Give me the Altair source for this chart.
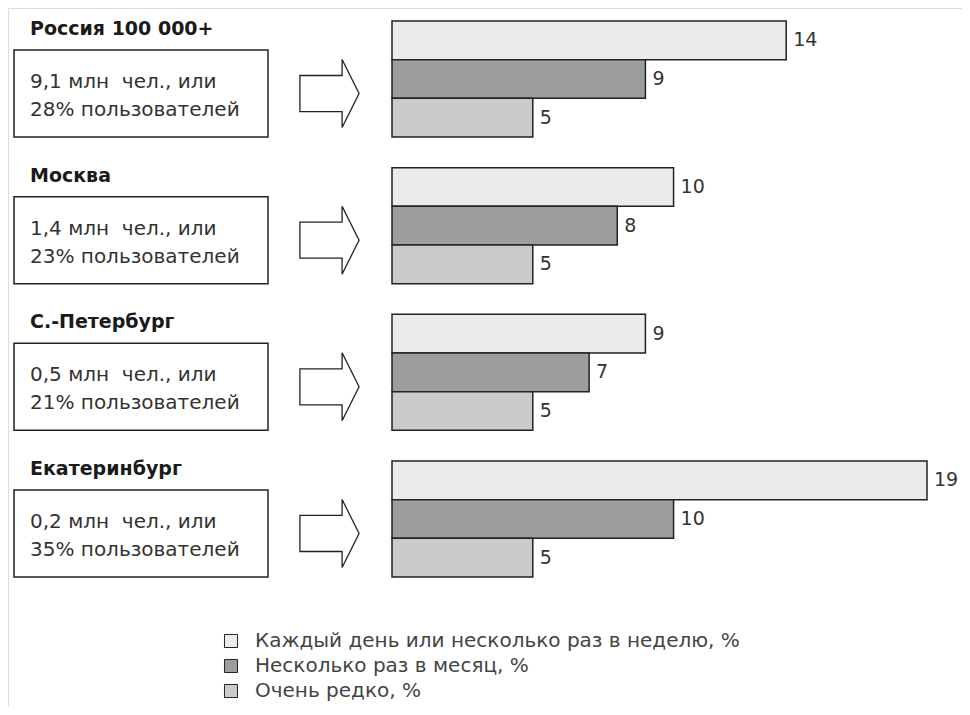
import altair as alt
import pandas as pd

groups = ["Россия 100 000+", "Москва", "С.-Петербург", "Екатеринбург"]
notes = [
    "9,1 млн \u00a0чел., или\n28% пользователей",
    "1,4 млн \u00a0чел., или\n23% пользователей",
    "0,5 млн \u00a0чел., или\n21% пользователей",
    "0,2 млн \u00a0чел., или\n35% пользователей",
]
categories = [
    "Каждый день или несколько раз в неделю, %",
    "Несколько раз в месяц, %",
    "Очень редко, %",
]
daily = [14, 10, 9, 19]
monthly = [9, 8, 7, 10]
rarely = [5, 5, 5, 5]
colors = ["#ebebeb", "#9c9d9f", "#c9cacc"]

FONT = "DejaVu Sans"

rows = []
for i, g in enumerate(groups):
    for c, v in zip(categories, [daily[i], monthly[i], rarely[i]]):
        rows.append({"group": g, "cat": c, "value": v})
bars_df = pd.DataFrame(rows)
info_df = pd.DataFrame({"group": groups, "note": notes})

yscale = alt.Scale(domain=groups, range=[13, 569], paddingInner=0.209, paddingOuter=0)
Y = alt.Y("group:N", scale=yscale, axis=None, sort=groups)
X = alt.X("value:Q", scale=alt.Scale(domain=[0, 19], range=[384, 919]), axis=None)
YO = alt.YOffset("cat:N", scale=alt.Scale(domain=categories, paddingInner=0, paddingOuter=0), sort=categories)

bars = alt.Chart(bars_df).mark_bar(stroke="#222222", strokeWidth=1.5, opacity=1).encode(
    x=X,
    y=Y,
    yOffset=YO,
    color=alt.Color(
        "cat:N",
        scale=alt.Scale(domain=categories, range=colors),
        sort=categories,
        legend=alt.Legend(
            title=None,
            orient="none",
            legendX=213,
            legendY=623,
            symbolType="square",
            symbolSize=170,
            symbolStrokeColor="#222222",
            symbolStrokeWidth=1,
            symbolOpacity=1,
            labelFont=FONT,
            labelFontSize=20,
            labelColor="#444444",
            labelOffset=14,
            labelLimit=700,
            rowPadding=5,
            padding=0,
        ),
    ),
)

labels = alt.Chart(bars_df).mark_text(
    align="left", baseline="middle", dx=7, fontSize=19, font=FONT, color="#333333"
).encode(x=X, y=Y, yOffset=YO, text="value:Q")

titles = alt.Chart(info_df).mark_text(
    align="left", baseline="middle", dy=-50, fontSize=19, fontWeight="bold", font=FONT, color="#1a1a1a"
).encode(x=alt.value(22), y=Y, text="group:N")

boxes = alt.Chart(info_df).mark_rect(
    fill="white", stroke="#222222", strokeWidth=1.5, height=87, yOffset=14.5
).encode(x=alt.value(6), x2=alt.value(260), y=Y)

note_text = alt.Chart(info_df).mark_text(
    align="left", baseline="middle", dy=3, fontSize=20, font=FONT, color="#333333",
    lineBreak="\n", lineHeight=28
).encode(x=alt.value(22), y=Y, text="note:N")

arrow_path = "M -0.87 -0.53 L 0.37 -0.53 L 0.37 -1 L 0.87 0 L 0.37 1 L 0.37 0.53 L -0.87 0.53 Z"
arrows = alt.Chart(info_df).mark_point(
    shape=arrow_path, size=4624, filled=True, fill="white", stroke="#222222",
    strokeWidth=1.3, opacity=1, yOffset=14.5
).encode(x=alt.value(321.5), y=Y)

chart = alt.layer(boxes, note_text, titles, arrows, bars, labels).properties(
    width=954, height=699, autosize=alt.AutoSizeParams(type="none"), padding=0
).configure_view(stroke=None).configure(background="white")

chart.save("out.html", embed_options={"renderer": "svg", "actions": False})
